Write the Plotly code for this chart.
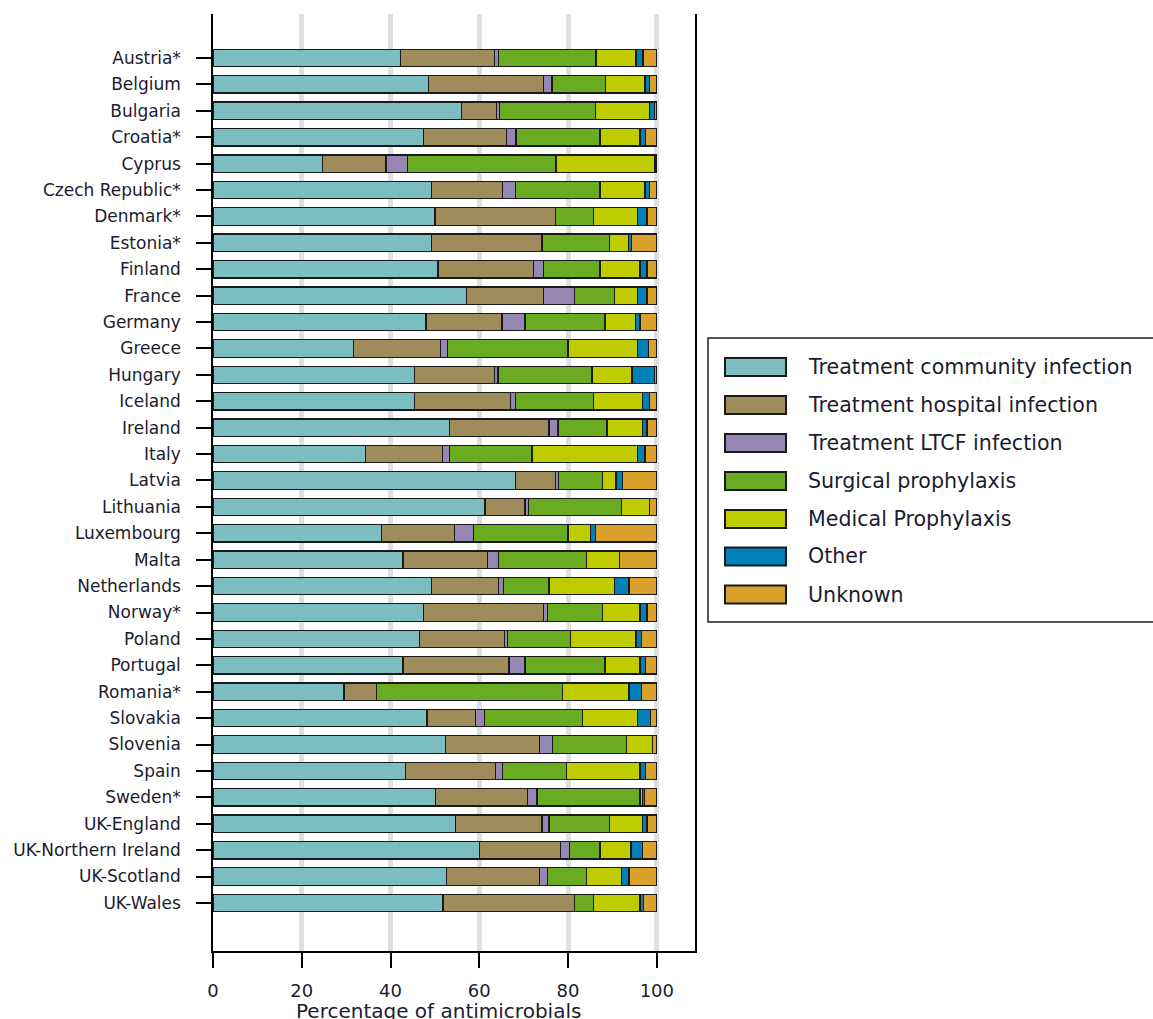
import plotly.graph_objects as go

countries = ["Austria*", "Belgium", "Bulgaria", "Croatia*", "Cyprus", "Czech Republic*", "Denmark*",
             "Estonia*", "Finland", "France", "Germany", "Greece", "Hungary", "Iceland", "Ireland",
             "Italy", "Latvia", "Lithuania", "Luxembourg", "Malta", "Netherlands", "Norway*", "Poland",
             "Portugal", "Romania*", "Slovakia", "Slovenia", "Spain", "Sweden*", "UK-England",
             "UK-Northern Ireland", "UK-Scotland", "UK-Wales"]

series_names = ["Treatment community infection", "Treatment hospital infection",
                "Treatment LTCF infection", "Surgical prophylaxis", "Medical Prophylaxis",
                "Other", "Unknown"]

treat_community = [42.3, 48.6, 56.0, 47.5, 24.6, 49.2, 50.0, 49.2, 50.7, 57.1, 48.0, 31.7, 45.4,
                   45.4, 53.3, 34.3, 68.2, 61.3, 37.9, 42.8, 49.2, 47.5, 46.5, 42.8, 29.5, 48.2,
                   52.4, 43.3, 50.2, 54.6, 60.1, 52.6, 51.8]
treat_hospital = [21.1, 25.9, 7.8, 18.6, 14.4, 16.1, 27.2, 24.9, 21.5, 17.4, 17.1, 19.5, 18.0,
                  21.6, 22.4, 17.4, 9.0, 9.0, 16.5, 19.1, 15.2, 27.0, 19.2, 23.9, 7.4, 11.0,
                  21.2, 20.3, 20.7, 19.5, 18.2, 21.0, 29.7]
treat_ltcf = [0.9, 1.9, 0.7, 2.2, 4.9, 2.9, 0.0, 0.0, 2.3, 7.0, 5.2, 1.7, 0.8,
              1.2, 2.0, 1.6, 0.7, 0.8, 4.3, 2.5, 1.1, 0.8, 0.6, 3.6, 0.0, 2.0,
              2.9, 1.6, 2.1, 1.6, 2.0, 1.7, 0.0]
surgical = [22.0, 12.0, 21.7, 18.9, 33.4, 19.0, 8.5, 15.2, 12.7, 9.0, 18.0, 27.1, 21.2,
            17.5, 11.1, 18.6, 9.9, 21.0, 21.3, 19.8, 10.2, 12.5, 14.2, 18.0, 41.9, 22.0,
            16.7, 14.4, 23.2, 13.6, 6.9, 8.9, 4.2]
medical = [9.0, 8.9, 12.1, 9.0, 22.1, 10.1, 9.9, 4.3, 9.0, 5.2, 6.9, 15.7, 9.0,
           11.0, 7.9, 23.7, 3.0, 6.2, 5.0, 7.4, 14.8, 8.4, 14.8, 7.9, 14.9, 12.5,
           5.8, 16.6, 0.5, 7.4, 7.0, 7.9, 10.5]
other = [1.6, 1.0, 1.1, 1.2, 0.3, 1.0, 2.2, 0.7, 1.6, 2.1, 1.0, 2.5, 5.0,
         1.6, 1.1, 1.7, 1.4, 0.0, 1.2, 0.0, 3.2, 1.6, 1.2, 1.2, 2.8, 2.8,
         0.0, 1.2, 0.5, 1.1, 2.6, 1.6, 0.8]
unknown = [3.1, 1.7, 0.6, 2.6, 0.3, 1.7, 2.2, 5.7, 2.2, 2.2, 3.8, 1.8, 0.6,
           1.7, 2.2, 2.7, 7.8, 1.7, 13.8, 8.4, 6.3, 2.2, 3.5, 2.6, 3.5, 1.5,
           1.0, 2.6, 2.8, 2.2, 3.2, 6.3, 3.0]

x_ticks = [0, 20, 40, 60, 80, 100]
x_title = "Percentage of antimicrobials"

colors = ["#7BBDC1", "#A08C5A", "#9686B4", "#6AAB22", "#BFCC00", "#0080B9", "#D9A12B"]
series_values = [treat_community, treat_hospital, treat_ltcf, surgical, medical, other, unknown]

FIG_W, FIG_H = 1153, 1019
L, R, T, B = 213, 695, 14, 951  # plot area in pixels

fig = go.Figure()
for name, vals, col in zip(series_names, series_values, colors):
    fig.add_trace(go.Bar(
        y=countries, x=vals, name=name, orientation="h",
        marker=dict(color=col, line=dict(color="#1a1a1a", width=1.3)),
        showlegend=False,
    ))

font_color = "#1c1c30"
fig.update_layout(
    width=FIG_W, height=FIG_H,
    margin=dict(l=L, r=FIG_W - R, t=T, b=FIG_H - B, pad=0),
    barmode="stack", bargap=0.34,
    plot_bgcolor="white", paper_bgcolor="white",
    font=dict(family="DejaVu Sans", color=font_color),
)
fig.update_xaxes(
    range=[0, 108.6], tickvals=x_ticks, ticks="outside", ticklen=15, tickwidth=1.5,
    tickcolor="black", showline=True, linecolor="black", linewidth=1.5,
    showgrid=True, gridcolor="#e0e0e0", gridwidth=5, zeroline=False,
    tickfont=dict(size=18, color=font_color), ticklabelstandoff=8,
)
fig.update_yaxes(
    type="category", categoryarray=countries, range=[33.82, -1.667],
    ticks="outside", ticklen=15, tickwidth=1.5, tickcolor="black",
    showline=True, linecolor="black", linewidth=1.5, mirror=True,
    showgrid=False, zeroline=False, tickfont=dict(size=17, color=font_color),
    ticklabelstandoff=12,
)

# axis title (annotation centred on the 0-100 scale)
fig.add_annotation(x=50.9, xref="x", y=(B - 1011) / (B - T), yref="paper",
                   text=x_title, showarrow=False, xanchor="center", yanchor="middle",
                   font=dict(size=20, color=font_color))

# custom legend with wide swatches
def px_x(p):
    return (p - L) / (R - L)

def px_y(p):
    return (B - p) / (B - T)

fig.add_shape(type="rect", xref="paper", yref="paper",
              x0=px_x(708), x1=px_x(1200), y0=px_y(622), y1=px_y(338),
              line=dict(color="#222222", width=1.5), fillcolor="white", layer="above")
centers = [367, 405, 443, 481, 519, 556.5, 594.5]
for name, col, cy in zip(series_names, colors, centers):
    fig.add_shape(type="rect", xref="paper", yref="paper",
                  x0=px_x(725), x1=px_x(786), y0=px_y(cy + 9), y1=px_y(cy - 9),
                  line=dict(color="#1a1a1a", width=2), fillcolor=col, layer="above")
    fig.add_annotation(x=px_x(806), xref="paper", y=px_y(cy), yref="paper",
                       text=name, showarrow=False, xanchor="left", yanchor="middle",
                       font=dict(size=20.6, color=font_color))

fig.write_html("out.html")
